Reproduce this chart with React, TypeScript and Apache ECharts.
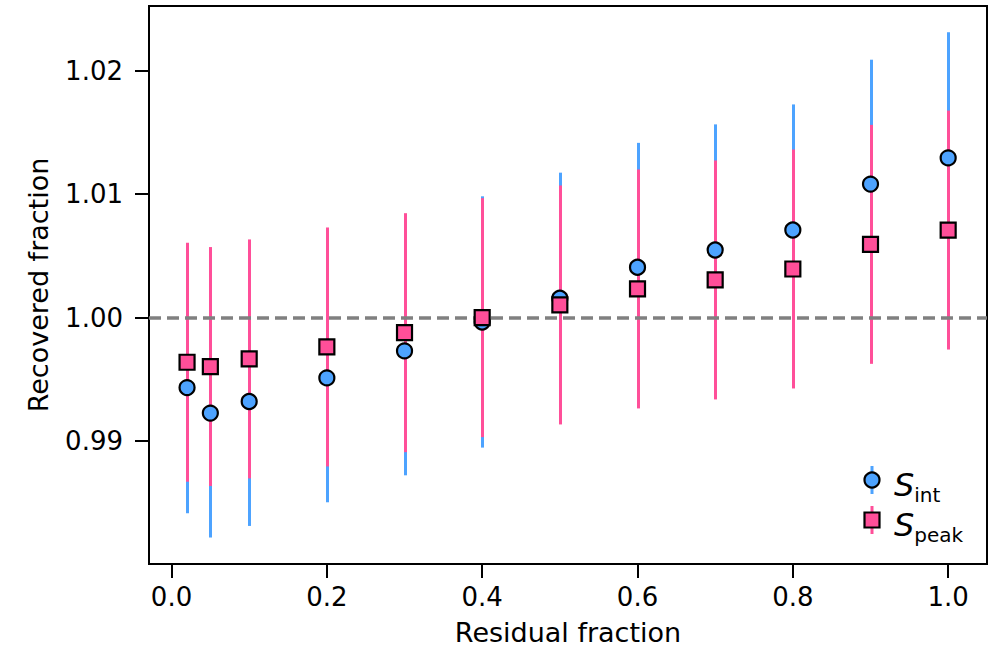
import React, { useEffect, useRef } from "react";
import * as echarts from "echarts";

const residualFraction = [0.02, 0.05, 0.1, 0.2, 0.3, 0.4, 0.5, 0.6, 0.7, 0.8, 0.9, 1.0];
const sIntValues = [0.99432, 0.99225, 0.99319, 0.99511, 0.9973, 0.99965, 1.00157, 1.00409, 1.00549, 1.00711, 1.01084, 1.01297];
const sIntErrors = [0.0102, 0.0101, 0.0101, 0.0101, 0.0101, 0.0102, 0.0102, 0.0101, 0.0102, 0.0102, 0.0101, 0.0102];
const sPeakValues = [0.99638, 0.99603, 0.99665, 0.99762, 0.99878, 1.0, 1.00103, 1.00233, 1.00306, 1.00395, 1.00595, 1.00711];
const sPeakErrors = [0.0097, 0.0097, 0.0097, 0.0097, 0.0097, 0.0097, 0.0097, 0.0097, 0.0097, 0.0097, 0.0097, 0.0097];
const xTicks = [0, 0.2, 0.4, 0.6, 0.8, 1.0];
const yTicks = [0.99, 1.0, 1.01, 1.02];
const referenceValue = 1.0;

const X_MIN = -0.029;
const X_MAX = 1.05;
const Y_MIN = 0.98;
const Y_MAX = 1.0253;

const W = 997;
const H = 664;
const GRID = { left: 149, right: 10, top: 6, bottom: 100 };

const BLUE = "#4DA3FF";
const PINK = "#FF4F99";
const FONT = "DejaVu Sans";
const TICK_LEN = 14;

function errorSeries(name: string, values: number[], errs: number[], color: string, z: number) {
  return {
    name,
    type: "custom",
    z,
    silent: true,
    encode: { x: 0, y: [1, 2] },
    data: residualFraction.map((x, i) => [x, values[i] - errs[i], values[i] + errs[i]]),
    renderItem: (params: any, api: any) => {
      const p1 = api.coord([api.value(0), api.value(1)]);
      const p2 = api.coord([api.value(0), api.value(2)]);
      const x = Math.round(p1[0]) + 0.5;
      return {
        type: "line",
        shape: { x1: x, y1: p1[1], x2: x, y2: p2[1] },
        style: { stroke: color, lineWidth: 3 },
      };
    },
  };
}

export default function App() {
  const ref = useRef<HTMLDivElement>(null);
  useEffect(() => {
    if (!ref.current) return;
    const chart = echarts.init(ref.current, null, { renderer: "svg" });
    const legendText = (sub: string) => `{s|S}{sub|${sub}}`;
    const rich = {
      s: { fontFamily: FONT, fontSize: 32, fontStyle: "italic", color: "#000", lineHeight: 40, verticalAlign: "bottom" },
      sub: { fontFamily: FONT, fontSize: 20, color: "#000", lineHeight: 40, verticalAlign: "bottom", padding: [0, 0, -4, 0] },
    };

    // Outward axis ticks, mapped onto the same extent as the value axes
    const plotW = W - GRID.left - GRID.right;
    const plotH = H - GRID.top - GRID.bottom;
    const bottomY = H - GRID.bottom;
    const xPx = (v: number) => GRID.left + ((v - X_MIN) / (X_MAX - X_MIN)) * plotW;
    const yPx = (v: number) => GRID.top + ((Y_MAX - v) / (Y_MAX - Y_MIN)) * plotH;
    const tickGraphics: any[] = [];
    for (const v of xTicks) {
      const x = Math.round(xPx(v));
      tickGraphics.push({
        type: "line",
        z: 100,
        shape: { x1: x, y1: bottomY, x2: x, y2: bottomY + TICK_LEN },
        style: { stroke: "#000000", lineWidth: 2 },
      });
    }
    for (const v of yTicks) {
      const y = Math.round(yPx(v));
      tickGraphics.push({
        type: "line",
        z: 100,
        shape: { x1: GRID.left - TICK_LEN, y1: y, x2: GRID.left, y2: y },
        style: { stroke: "#000000", lineWidth: 2 },
      });
    }

    const legendGraphics: any[] = [
      { type: "line", z: 100, shape: { x1: 872, y1: 466, x2: 872, y2: 494 }, style: { stroke: BLUE, lineWidth: 3 } },
      { type: "circle", z: 101, shape: { cx: 872, cy: 480, r: 7.5 }, style: { fill: BLUE, stroke: "#000", lineWidth: 2.2 } },
      {
        type: "text",
        z: 101,
        x: 894,
        y: 481,
        style: { text: legendText("int"), rich, verticalAlign: "middle", align: "left" },
      },
      { type: "line", z: 100, shape: { x1: 872, y1: 506, x2: 872, y2: 534 }, style: { stroke: PINK, lineWidth: 3 } },
      { type: "rect", z: 101, shape: { x: 864.5, y: 512.5, width: 15, height: 15 }, style: { fill: PINK, stroke: "#000", lineWidth: 2.2 } },
      {
        type: "text",
        z: 101,
        x: 894,
        y: 521,
        style: { text: legendText("peak"), rich, verticalAlign: "middle", align: "left" },
      },
    ];

    chart.setOption({
      animation: false,
      textStyle: { fontFamily: FONT },
      grid: {
        ...GRID,
        show: true,
        borderColor: "#000",
        borderWidth: 2,
        backgroundColor: "transparent",
      },
      xAxis: {
        type: "value",
        min: X_MIN,
        max: X_MAX,
        name: "Residual fraction",
        nameLocation: "middle",
        nameGap: 55,
        nameTextStyle: { fontFamily: FONT, fontSize: 27, color: "#000" },
        axisLine: { show: false },
        axisTick: { show: false },
        axisLabel: {
          customValues: xTicks,
          formatter: (v: number) => v.toFixed(1),
          fontFamily: FONT,
          fontSize: 26,
          color: "#000",
          margin: 20,
        },
        splitLine: { show: false },
      },
      yAxis: {
        type: "value",
        min: Y_MIN,
        max: Y_MAX,
        name: "Recovered fraction",
        nameLocation: "middle",
        nameGap: 97,
        nameTextStyle: { fontFamily: FONT, fontSize: 27, color: "#000" },
        axisLine: { show: false },
        axisTick: { show: false },
        axisLabel: {
          customValues: yTicks,
          formatter: (v: number) => v.toFixed(2),
          fontFamily: FONT,
          fontSize: 26,
          color: "#000",
          margin: 26,
        },
        splitLine: { show: false },
      },
      series: [
        errorSeries("S_int err", sIntValues, sIntErrors, BLUE, 2),
        errorSeries("S_peak err", sPeakValues, sPeakErrors, PINK, 3),
        {
          type: "line",
          z: 4,
          silent: true,
          data: [],
          markLine: {
            silent: true,
            symbol: "none",
            label: { show: false },
            lineStyle: { color: "#808080", width: 3.5, type: [12, 6] },
            data: [{ yAxis: referenceValue }],
          },
        },
        {
          name: "S_int",
          type: "scatter",
          z: 5,
          symbol: "circle",
          symbolSize: 15,
          itemStyle: { color: BLUE, borderColor: "#000", borderWidth: 2.2, opacity: 1 },
          data: residualFraction.map((x, i) => [x, sIntValues[i]]),
        },
        {
          name: "S_peak",
          type: "scatter",
          z: 6,
          symbol: "rect",
          symbolSize: 15,
          itemStyle: { color: PINK, borderColor: "#000", borderWidth: 2.2, opacity: 1 },
          data: residualFraction.map((x, i) => [x, sPeakValues[i]]),
        },
      ],
      graphic: [...tickGraphics, ...legendGraphics],
    });

    return () => chart.dispose();
  }, []);
  return (
    <div
      ref={ref}
      style={{ position: "absolute", left: 0, top: 0, width: W, height: H }}
    />
  );
}
